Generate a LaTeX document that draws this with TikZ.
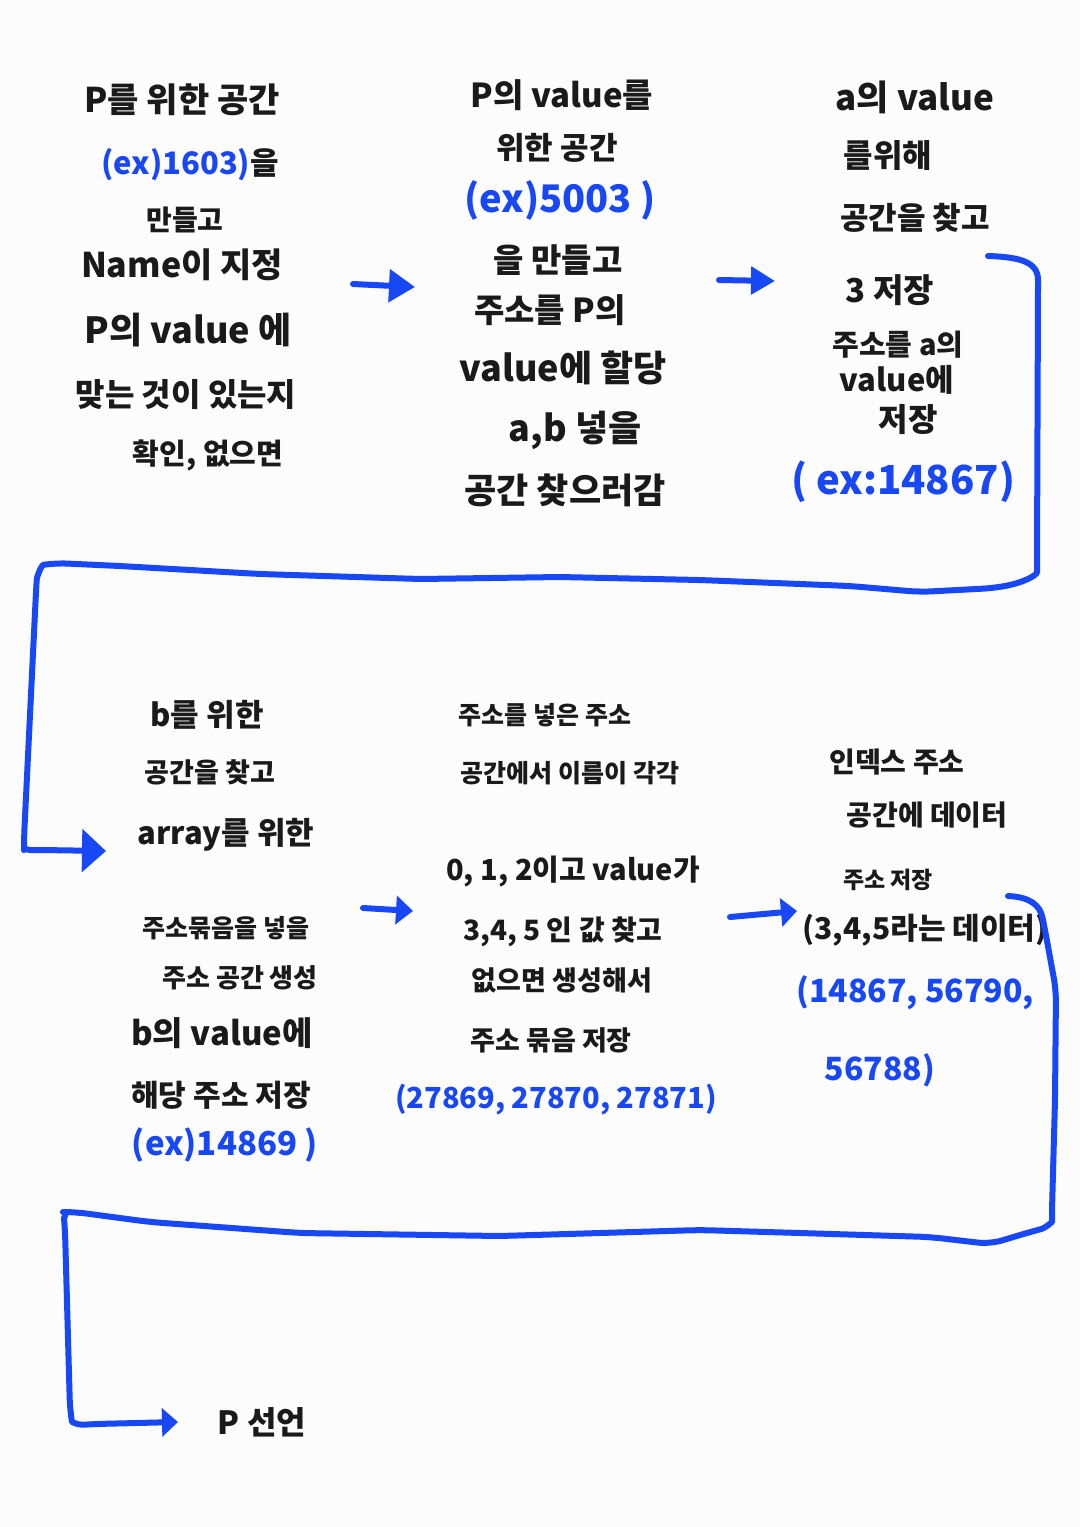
\documentclass[tikz,border=0pt]{standalone}
\usepackage{fontspec}
\setmainfont{Noto Sans CJK KR}
\usetikzlibrary{arrows.meta}
\definecolor{ink}{RGB}{26,26,26}
\definecolor{pen}{RGB}{24,72,245}
\definecolor{paper}{RGB}{252,252,253}
\tikzset{
  txt/.style={text=ink, inner sep=0pt, font=\bfseries\fontsize{#1}{#1}\selectfont},
  txt/.default=32,
  btxt/.style={text=pen, inner sep=0pt, font=\bfseries\fontsize{#1}{#1}\selectfont},
  btxt/.default=32,
  flow/.style={draw=pen, line width=6pt, line cap=round, line join=round, rounded corners=12pt},
  tipA/.style={-{Triangle[length=26pt,width=32pt]}},
  tipB/.style={-{Triangle[length=17pt,width=28pt]}}
}
\begin{document}
\begin{tikzpicture}[x=1pt,y=-1pt]
\fill[paper] (0,0) rectangle (1080,1527);
\useasboundingbox (0,0) rectangle (1080,1527);

% column 1
\node[txt=34] (c1a) at (182,100) {P를 위한 공간};
\node[txt=31] (c1b) at (190,165) {\textcolor{pen}{(ex)1603)}을};
\node[txt=28] (c1c) at (185,220) {만들고};
\node[txt=34] (c1d) at (182,265) {Name이 지정};
\node[txt=36] (c1e) at (188,330) {P의 value 에};
\node[txt=32] (c1f) at (186,395) {맞는 것이 있는지};
\node[txt=29] (c1g) at (208,455) {확인, 없으면};

% column 2
\node[txt=33] (c2a) at (562,95) {P의 value를};
\node[txt=31] (c2b) at (557,148) {위한 공간};
\node[btxt=38] (c2c) at (560,200) {(ex)5003 )};
\node[txt=33] (c2d) at (558,260) {을 만들고};
\node[txt=33] (c2e) at (550,310) {주소를 P의};
\node[txt=36] (c2f) at (563,368) {value에 할당};
\node[txt=36] (c2g) at (575,430) {a,b 넣을};
\node[txt=35] (c2h) at (565,490) {공간 찾으러감};

% column 3
\node[txt=35] (c3a) at (915,97) {a의 value};
\node[txt=32] (c3b) at (888,155) {를위해};
\node[txt=31] (c3c) at (915,218) {공간을 찾고};
\node[txt=33] (c3d) at (890,290) {3 저장};
\node[txt=29] (c3e) at (898,345) {주소를 a의};
\node[txt=31] (c3f) at (897,380) {value에};
\node[txt=32] (c3g) at (908,420) {저장};
\node[btxt=40] (c3h) at (903,482) {( ex:14867)};

% row 2 column 1
\node[txt=31] (d1a) at (207,715) {b를 위한};
\node[txt=27] (d1b) at (210,772) {공간을 찾고};
\node[txt=31] (d1c) at (226,835) {array를 위한};
\node[txt=25] (d1d) at (226,928) {주소묶음을 넣을};
\node[txt=26] (d1e) at (240,978) {주소 공간 생성};
\node[txt=33] (d1f) at (222,1033) {b의 value에};
\node[txt=30] (d1g) at (221,1095) {해당 주소 저장};
\node[btxt=33] (d1h) at (225,1145) {(ex)14869 )};

% row 2 column 2
\node[txt=25] (d2a) at (545,715) {주소를 넣은 주소};
\node[txt=25] (d2b) at (570,773) {공간에서 이름이 각각};
\node[txt=29] (d2c) at (573,872) {0, 1, 2이고 value가};
\node[txt=28] (d2d) at (563,932) {3,4, 5 인 값 찾고};
\node[txt=27] (d2e) at (562,980) {없으면 생성해서};
\node[txt=27] (d2f) at (551,1040) {주소 묶음 저장};
\node[btxt=29] (d2g) at (556,1100) {(27869, 27870, 27871)};

% row 2 column 3
\node[txt=28] (d3a) at (897,762) {인덱스 주소};
\node[txt=28] (d3b) at (927,815) {공간에 데이터};
\node[txt=23] (d3c) at (888,880) {주소 저장};
\node[txt=30] (d3d) at (925,930) {(3,4,5라는 데이터)};
\node[btxt=32] (d3e) at (915,993) {(14867, 56790,};
\node[btxt=32] (d3f) at (880,1070) {56788)};

% last
\node[txt=32] (fin) at (262,1422) {P 선언};

% short arrows
\coordinate (a1s) at (353,284);
\coordinate (a1e) at (415,287);
\coordinate (a2s) at (719,280);
\coordinate (a2e) at (775,281);
\coordinate (a3s) at (363,908);
\coordinate (a3e) at (413,911);
\coordinate (a4s) at (730,917);
\coordinate (a4e) at (797,911);
\draw[flow, tipA] (a1s) -- (a1e);
\draw[flow, -{Triangle[length=24pt,width=27pt]}] (a2s) -- (a2e);
\draw[flow, tipB] (a3s) -- (a3e);
\draw[flow, -{Triangle[length=16pt,width=28pt]}] (a4s) -- (a4e);

% long connector 1
\coordinate (p1s) at (988,256);
\coordinate (p1e) at (106,851);
\draw[flow, -{Triangle[length=24pt,width=42pt]}] (p1s) .. controls (1020,257) and (1038,262) .. (1038,292)
  -- (1037,560) .. controls (1037,575) and (1025,582) .. (995,588)
  -- (920,592) -- (850,586) -- (700,580) -- (560,577) -- (420,579) -- (260,574) -- (120,566) -- (55,563)
  .. controls (42,565) and (37,575) .. (36,592)
  -- (24,838) .. controls (24,848) and (28,850) .. (42,850) -- (p1e);

% long connector 2
\coordinate (p2s) at (1008,896);
\coordinate (p2e) at (178,1422);
\draw[flow, -{Triangle[length=16pt,width=28pt]}] (p2s) .. controls (1030,897) and (1040,905) .. (1045,930)
  -- (1056,990) -- (1055,1100) -- (1052,1210) .. controls (1052,1222) and (1045,1228) .. (1030,1232)
  -- (990,1244) -- (930,1237) -- (800,1233) -- (700,1230) -- (500,1236) -- (300,1233) -- (150,1222) -- (75,1212)
  .. controls (68,1212) and (64,1218) .. (65,1230)
  -- (70,1410) .. controls (72,1422) and (78,1425) .. (95,1424) -- (p2e);
\end{tikzpicture}
\end{document}
